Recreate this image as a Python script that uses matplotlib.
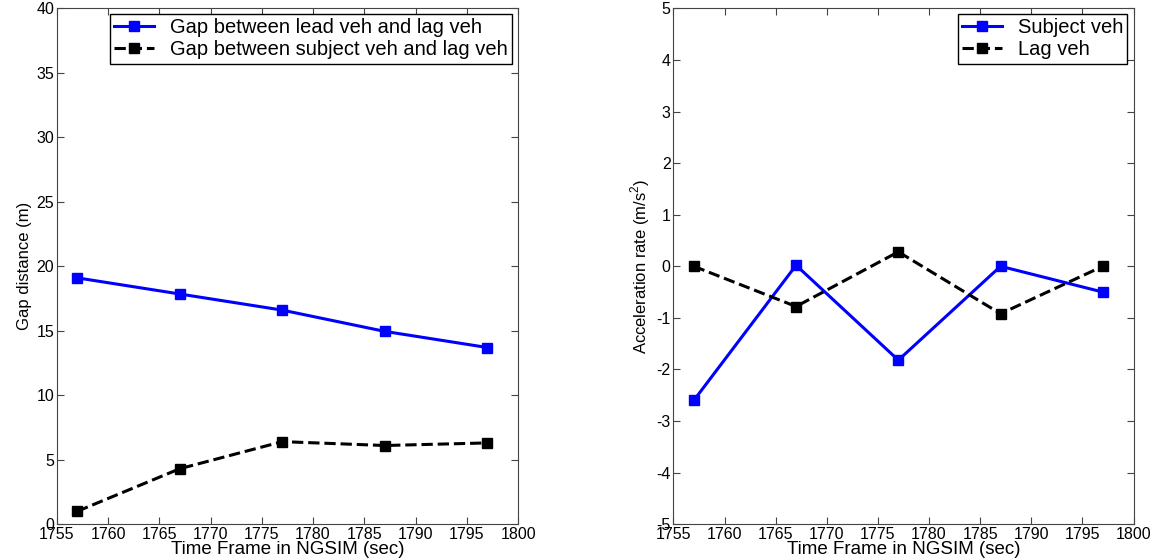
import matplotlib
matplotlib.use('Agg')
import matplotlib.pyplot as plt

time_frame = [1757, 1767, 1777, 1787, 1797]

gap_lead_lag = [19.1, 17.85, 16.6, 14.95, 13.7]
gap_subject_lag = [1.0, 4.3, 6.4, 6.1, 6.3]

acc_subject = [-2.6, 0.02, -1.82, 0.0, -0.5]
acc_lag = [0.0, -0.78, 0.28, -0.92, 0.0]

plt.rcParams['font.family'] = ['Liberation Sans', 'DejaVu Sans']
plt.rcParams['mathtext.fontset'] = 'custom'
plt.rcParams['mathtext.rm'] = 'Liberation Sans'
plt.rcParams['axes.unicode_minus'] = False

fig = plt.figure(figsize=(11.59, 5.6), dpi=100)
ax1 = fig.add_axes([0.049, 0.064, 0.398, 0.921])
ax2 = fig.add_axes([0.581, 0.064, 0.397, 0.921])

ax1.plot(time_frame, gap_lead_lag, color='blue', lw=2.2, marker='s', ms=7,
         label='Gap between lead veh and lag veh')
ax1.plot(time_frame, gap_subject_lag, color='black', lw=2.2, ls='--', marker='s', ms=7,
         label='Gap between subject veh and lag veh')
ax1.set_ylim(0, 40)
ax1.set_yticks(range(0, 41, 5))
ax1.set_ylabel('Gap distance (m)', fontsize=12, labelpad=3)

ax2.plot(time_frame, acc_subject, color='blue', lw=2.2, marker='s', ms=7,
         label='Subject veh')
ax2.plot(time_frame, acc_lag, color='black', lw=2.2, ls='--', marker='s', ms=7,
         label='Lag veh')
ax2.set_ylim(-5, 5)
ax2.set_yticks(range(-5, 6))
ax2.set_ylabel('Acceleration rate (m/s$^2$)', fontsize=12, labelpad=3)

for ax in (ax1, ax2):
    ax.set_xlim(1755, 1800)
    ax.set_xticks(range(1755, 1801, 5))
    ax.set_xlabel('Time Frame in NGSIM (sec)', fontsize=13.5, labelpad=-1)
    ax.tick_params(direction='in', top=True, right=True, labelsize=11.5, length=5,
                   color='#444444', pad=2)
    for s in ax.spines.values():
        s.set_color('#444444')
    leg = ax.legend(loc='upper right', fontsize=14.5, fancybox=False, framealpha=1,
                    edgecolor='black', borderaxespad=0.3, handlelength=2.0,
                    borderpad=0.2, labelspacing=0.15, handletextpad=0.8)
    leg.get_frame().set_linewidth(1.0)

fig.savefig('out.png', dpi=100)
